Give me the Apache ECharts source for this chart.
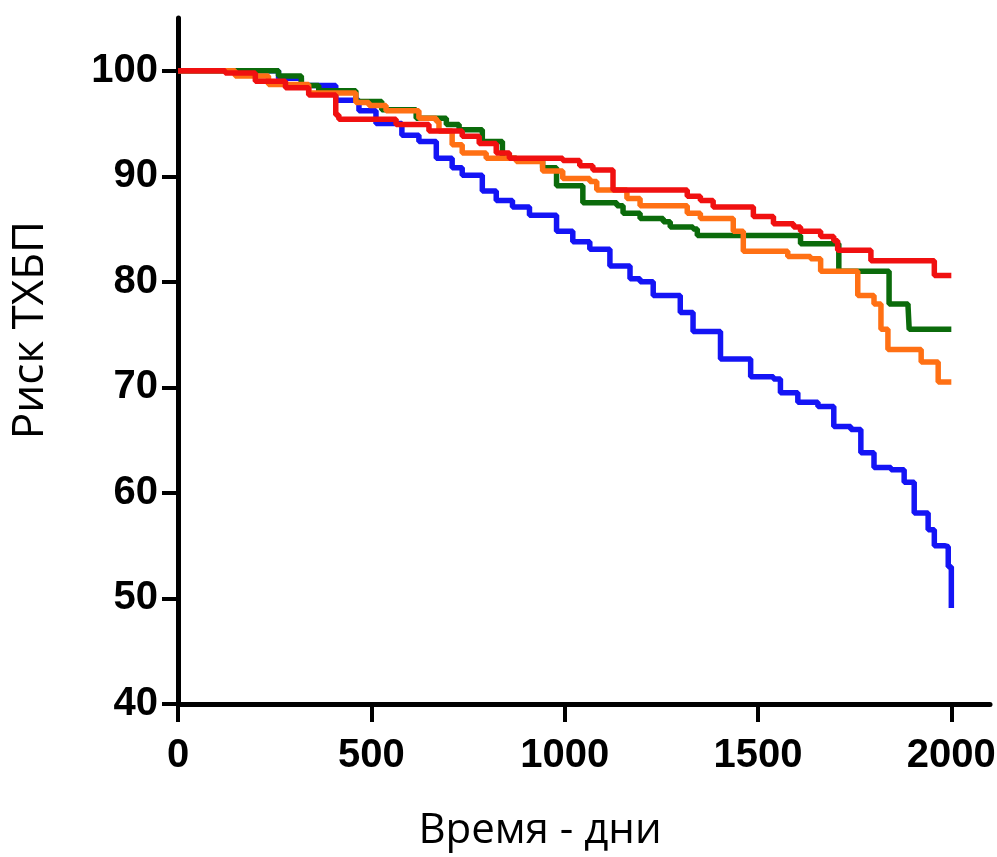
<!DOCTYPE html>
<html lang="ru">
<head>
    <meta charset="UTF-8">
    <title>Риск ТХБП</title>
    <script src="https://cdn.jsdelivr.net/npm/echarts@6/dist/echarts.min.js"></script>
    <style>
        html, body { margin: 0; padding: 0; background: #fff; }
        #chart { width: 997px; height: 857px; }
    </style>
</head>
<body>
    <div id="chart"></div>
    <script>
        // тики осей
        const xTicks = [0, 500, 1000, 1500, 2000];
        const yTicks = [40, 50, 60, 70, 80, 90, 100];

        // кривые (день, %), ступенька в точке события
        const blue = [
            [0, 100], [208, 100], [260, 99.3], [319, 98.6], [408, 97.2], [468, 96.2],
            [512, 95.0], [579, 93.9], [623, 93.3], [668, 91.7], [709, 90.8], [735, 90.1],
            [787, 88.6], [823, 87.7], [865, 87.1], [909, 86.3], [979, 84.8], [1021, 83.8],
            [1065, 83.1], [1117, 81.5], [1169, 80.3], [1195, 80.0], [1229, 78.7], [1299, 77.1],
            [1332, 75.3], [1403, 72.7], [1481, 71.0], [1540, 70.8], [1558, 69.5], [1603, 68.6],
            [1655, 68.2], [1696, 66.3], [1740, 66.0], [1766, 63.8], [1800, 62.4], [1844, 62.2],
            [1878, 61.0], [1904, 58.1], [1940, 56.5], [1956, 55.0], [1982, 54.9], [1992, 53.0],
            [2000, 49.1]
        ];
        const green = [
            [0, 100], [242, 100], [260, 99.5], [319, 98.6], [364, 98.1], [460, 97.1],
            [527, 96.3], [616, 95.5], [694, 94.9], [727, 94.4], [787, 93.3], [839, 91.7],
            [875, 91.5], [943, 90.8], [979, 89.1], [1047, 87.5], [1135, 87.2], [1151, 86.5],
            [1195, 86.0], [1255, 85.7], [1273, 85.2], [1332, 85.0], [1343, 84.4], [1610, 83.6],
            [1709, 81.0], [1839, 77.9], [1888, 77.7], [1891, 75.5], [2000, 75.5]
        ];
        const orange = [
            [0, 100], [148, 99.5], [234, 98.7], [338, 97.9], [460, 97.0], [494, 96.7],
            [538, 96.2], [623, 95.5], [668, 95.2], [675, 94.3], [709, 93.0], [735, 92.2],
            [797, 91.7], [875, 91.4], [943, 90.5], [995, 89.8], [1065, 89.5], [1083, 88.7],
            [1161, 87.9], [1195, 87.2], [1317, 86.5], [1351, 86.0], [1436, 84.8], [1462, 82.9],
            [1577, 82.4], [1636, 82.2], [1662, 81.0], [1758, 78.7], [1800, 77.9], [1818, 75.5],
            [1836, 73.6], [1922, 72.4], [1966, 70.5], [2000, 70.5]
        ];
        const red = [
            [0, 100], [122, 99.8], [200, 99.0], [278, 98.4], [338, 97.7], [408, 95.8],
            [416, 95.4], [564, 94.9], [649, 94.3], [735, 93.8], [779, 93.1], [823, 92.2],
            [857, 91.7], [995, 91.5], [1039, 91.0], [1073, 90.6], [1125, 88.7], [1317, 88.1],
            [1351, 87.7], [1384, 87.1], [1488, 86.2], [1540, 85.5], [1592, 85.2], [1610, 84.8],
            [1662, 84.3], [1696, 83.9], [1706, 83.0], [1792, 82.0], [1956, 80.6], [2000, 80.6]
        ];

        const tickFont = {
            color: '#000',
            fontFamily: "'Liberation Sans', Arial, sans-serif",
            fontWeight: 'bold',
            fontSize: 40,
            formatter: function (v) { return String(v); }
        };

        function line(data, color) {
            return {
                type: 'line',
                data: data,
                step: 'end',
                showSymbol: false,
                silent: true,
                lineStyle: { color: color, width: 5.5 }
            };
        }

        const chart = echarts.init(document.getElementById('chart'));
        chart.setOption({
            animation: false,
            grid: { left: 178, right: 7, top: 18, bottom: 153, outerBoundsMode: 'none', containLabel: false },
            xAxis: {
                type: 'value',
                min: 0,
                max: 2100,
                interval: 500,
                splitLine: { show: false },
                axisLine: { lineStyle: { color: '#000', width: 5 } },
                axisTick: { length: 18, lineStyle: { color: '#000', width: 4 }, customValues: xTicks },
                axisLabel: Object.assign({ margin: 32, customValues: xTicks, hideOverlap: false }, tickFont),
                name: 'Время - дни',
                nameLocation: 'middle',
                nameGap: 106,
                nameTextStyle: {
                    color: '#000',
                    fontFamily: "'Open Sans', 'Noto Sans', sans-serif",
                    fontSize: 42,
                    padding: [0, 88, 0, 0]
                }
            },
            yAxis: {
                type: 'value',
                min: 40,
                max: 105,
                interval: 10,
                splitLine: { show: false },
                axisLine: { lineStyle: { color: '#000', width: 5 } },
                axisTick: { length: 16, lineStyle: { color: '#000', width: 4 }, customValues: yTicks },
                axisLabel: Object.assign({ margin: 20, customValues: yTicks }, tickFont),
                name: 'Риск ТХБП',
                nameLocation: 'middle',
                nameGap: 126,
                nameTextStyle: {
                    color: '#000',
                    fontFamily: "'Open Sans', 'Noto Sans', sans-serif",
                    fontSize: 44,
                    padding: [0, 0, 0, 62]
                }
            },
            series: [
                line(blue, '#1414f5'),
                line(green, '#0b6b0b'),
                line(orange, '#ff7014'),
                line(red, '#f01010')
            ]
        });
    </script>
</body>
</html>
